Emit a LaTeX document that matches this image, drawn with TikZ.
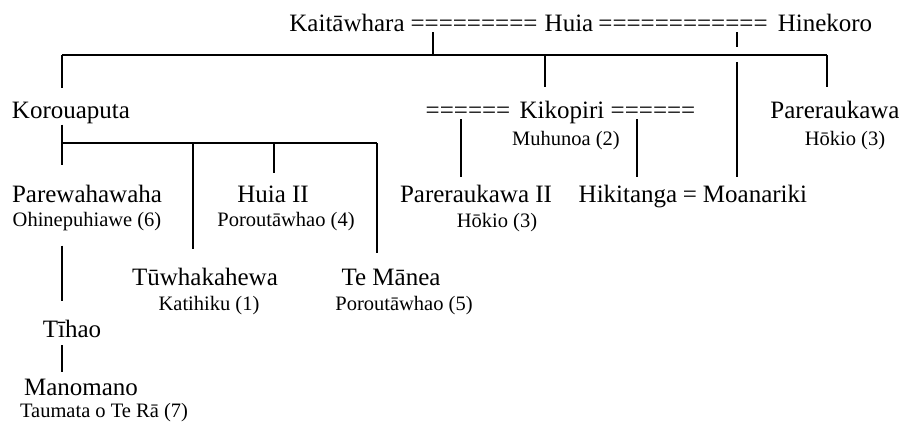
\documentclass[tikz,border=0pt]{standalone}
\usepackage{fontspec}
\setmainfont{Liberation Serif}
\usetikzlibrary{calc}

\tikzset{
  person/.style={anchor=base, inner sep=0pt, font=\fontsize{25}{30}\selectfont},
  place/.style={anchor=base, inner sep=0pt, font=\fontsize{20.5}{24}\selectfont},
  link/.style={line width=1.1pt},
}

\begin{document}
\begin{tikzpicture}[x=1pt,y=-1pt]
  \useasboundingbox (0,0) rectangle (912,425);

  % top row
  \node[person] (kait) at (347,32) {Kaitāwhara};
  \node[person] (eq1) at (474,32) {=========};
  \node[person] (huia) at (569,32) {Huia};
  \node[person] (eq2) at (683,32) {============};
  \node[person] (hine) at (825,32) {Hinekoro};

  % second row
  \node[person] (kor) at (71,119) {Korouaputa};
  \node[person] (keq1) at (468,119) {======};
  \node[person] (kiko) at (562,119) {Kikopiri};
  \node[person] (keq2) at (653,119) {======};
  \node[place] (muhu) at (566,145) {Muhunoa (2)};
  \node[person] (pare) at (835,119) {Pareraukawa};
  \node[place] (hokio1) at (845,145) {Hōkio (3)};

  % third row
  \node[person] (parew) at (87,202) {Parewahawaha};
  \node[place] (ohin) at (87,226) {Ohinepuhiawe (6)};
  \node[person] (huia2) at (273,202) {Huia II};
  \node[place] (poro4) at (286,226) {Poroutāwhao (4)};
  \node[person] (pare2) at (476,202) {Pareraukawa II};
  \node[place] (hokio2) at (497,227) {Hōkio (3)};
  \node[person] (hiki) at (628,202) {Hikitanga};
  \node[person] (heq) at (690,202) {=};
  \node[person] (moa) at (755,202) {Moanariki};

  % fourth row
  \node[person] (tuwh) at (205,285) {Tūwhakahewa};
  \node[place] (kati) at (209,310) {Katihiku (1)};
  \node[person] (mane) at (391,285) {Te Mānea};
  \node[place] (poro5) at (404,310) {Poroutāwhao (5)};

  % Parewahawaha line
  \node[person] (tihao) at (72,337) {Tīhao};
  \node[person] (mano) at (81,395) {Manomano};
  \node[place] (taum) at (104,417) {Taumata o Te Rā (7)};

  % children of Huia
  \coordinate (j1) at (433,55);
  \coordinate (a0) at (62,55);
  \coordinate (a1) at (827,55);
  \coordinate (j2) at (545,55);
  \draw[link] (eq1.south -| j1) -- (j1);
  \draw[link] (a0) -- (a1);
  \draw[link, shorten >=14pt] (a0) -- (a0 |- kor.north);
  \draw[link, shorten >=14pt] (j2) -- (j2 |- kiko.north);
  \draw[link, shorten >=14pt] (a1) -- (a1 |- pare.north);

  % Huia = Hinekoro
  \coordinate (j3) at (737,47);
  \coordinate (j4) at (737,62);
  \draw[link] (eq2.south -| j3) -- (j3);
  \draw[link, shorten >=7pt] (j4) -- (j4 |- moa.north);

  % children of Korouaputa
  \coordinate (b0) at (62,143);
  \coordinate (b1) at (377,143);
  \coordinate (b2) at (193,143);
  \coordinate (b3) at (274,143);
  \draw[link] (kor.south -| b0) -- (b0) -- (b1);
  \draw[link, shorten >=19pt] (b0) -- (b0 |- parew.north);
  \draw[link, shorten >=18pt] (b2) -- (b2 |- tuwh.north);
  \draw[link, shorten >=12pt] (b3) -- (b3 |- huia2.north);
  \draw[link, shorten >=15pt] (b1) -- (b1 |- mane.north);

  % Parewahawaha down
  \draw[link, shorten <=15pt, shorten >=18pt] (ohin.south -| b0) -- (b0 |- tihao.north);
  \draw[link, shorten <=8pt, shorten >=6pt] (tihao.south -| b0) -- (b0 |- mano.north);

  % children of Kikopiri
  \coordinate (c1) at (461,119);
  \coordinate (c2) at (637,119);
  \draw[link, shorten >=7pt] (keq1.south -| c1) -- (c1 |- pare2.north);
  \draw[link, shorten >=7pt] (keq2.south -| c2) -- (c2 |- hiki.north);
\end{tikzpicture}
\end{document}
